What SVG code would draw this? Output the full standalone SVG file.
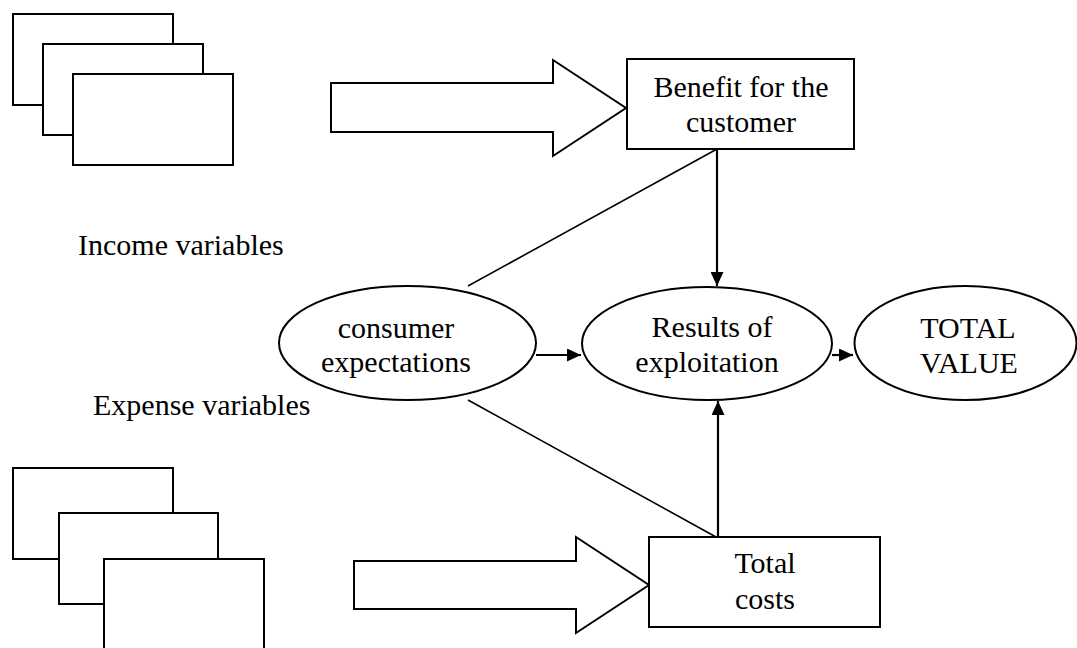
<svg xmlns="http://www.w3.org/2000/svg" width="1077" height="648" viewBox="0 0 1077 648">
<defs>
<style>
.box{fill:#fff;stroke:#000;stroke-width:2}
.ell{fill:#fff;stroke:#000;stroke-width:2}
.ln{fill:none;stroke:#000;stroke-width:1.6}
.arr{fill:none;stroke:#000;stroke-width:2.2}
.big{fill:#fff;stroke:#000;stroke-width:2;stroke-linejoin:miter}
text{font-family:"Liberation Serif","Times New Roman",serif;font-size:30px;fill:#000}
.c{text-anchor:middle}
</style>
<marker id="ah" markerWidth="14" markerHeight="13" refX="14" refY="6.5" orient="auto" markerUnits="userSpaceOnUse">
<path d="M0,0 L14,6.5 L0,13 Z" fill="#000"/>
</marker>
</defs>
<rect width="1077" height="648" fill="#fff"/>
<g id="income-stack">
<rect class="box" x="13" y="14" width="160" height="91"/>
<rect class="box" x="43" y="44" width="160" height="91"/>
<rect class="box" x="73" y="74" width="160" height="91"/>
</g>
<g id="expense-stack">
<rect class="box" x="13" y="468" width="160" height="91"/>
<rect class="box" x="59" y="513" width="159" height="91"/>
<rect class="box" x="104" y="559" width="160" height="100"/>
</g>
<g id="income-arrow">
<path class="big" d="M331,83 L553,83 L553,60 L626,108 L553,156 L553,132 L331,132 Z"/>
</g>
<g id="expense-arrow">
<path class="big" d="M354,561 L576,561 L576,537 L649,585 L576,633 L576,609 L354,609 Z"/>
</g>
<g id="connectors">
<line class="ln" x1="717" y1="149" x2="468" y2="286"/>
<line class="ln" x1="468" y1="400" x2="716" y2="537"/>
<line class="arr" x1="717" y1="149" x2="717" y2="286" marker-end="url(#ah)"/>
<line class="arr" x1="718" y1="537" x2="718" y2="401" marker-end="url(#ah)"/>
<line class="arr" x1="536" y1="355" x2="581" y2="355" marker-end="url(#ah)"/>
<line class="arr" x1="832" y1="355" x2="853" y2="355" marker-end="url(#ah)"/>
</g>
<g id="benefit">
<rect class="box" x="627" y="59" width="227" height="90"/>
<text class="c" x="741" y="97">Benefit for the</text>
<text class="c" x="741" y="132">customer</text>
</g>
<g id="total-costs">
<rect class="box" x="649" y="537" width="231" height="90"/>
<text class="c" x="765" y="573">Total</text>
<text class="c" x="765" y="609">costs</text>
</g>
<g id="consumer-expectations">
<ellipse class="ell" cx="407.5" cy="343" rx="128.5" ry="57"/>
<text class="c" x="396" y="338">consumer</text>
<text class="c" x="396" y="372">expectations</text>
</g>
<g id="results">
<ellipse class="ell" cx="707" cy="343.5" rx="125" ry="56.5"/>
<text class="c" x="712" y="337">Results of</text>
<text class="c" x="707" y="372">exploitation</text>
</g>
<g id="total-value">
<ellipse class="ell" cx="965.5" cy="343" rx="111" ry="57"/>
<text class="c" x="968" y="338">TOTAL</text>
<text class="c" x="969" y="373">VALUE</text>
</g>
<g id="labels">
<text x="78" y="255">Income variables</text>
<text x="93" y="415">Expense variables</text>
</g>
</svg>
